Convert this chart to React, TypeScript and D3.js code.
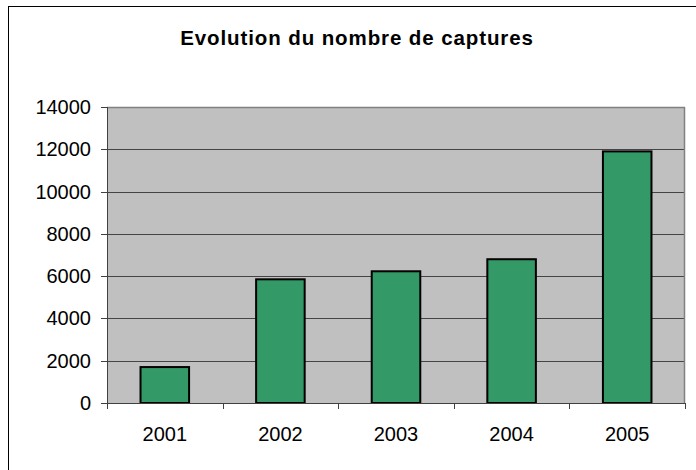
import React from "react";
import * as d3 from "d3";

const years = ["2001", "2002", "2003", "2004", "2005"];
const captures = [1700, 5850, 6230, 6800, 11900];
const yTicks = [0, 2000, 4000, 6000, 8000, 10000, 12000, 14000];
const title = "Evolution du nombre de captures";

export default function App() {
  const W = 696, H = 470;
  const left = 107, right = 685, top = 107, bottom = 403;
  const y = d3.scaleLinear().domain([0, 14000]).range([bottom, top]);
  const x = d3.scaleBand<string>().domain(years).range([left, right]).paddingInner(0.58).paddingOuter(0.29);
  const step = x.step();
  const font = "Arial, 'Liberation Sans', Helvetica, sans-serif";
  return (
    <svg width={W} height={H} style={{ position: "absolute", left: 0, top: 0, background: "#fff" }}>
      <rect x={8.5} y={6.5} width={720} height={500} fill="#fff" stroke="#000" strokeWidth={1} />
      <text x={357} y={45} textAnchor="middle" fontFamily={font} fontWeight="bold" fontSize={20.5} letterSpacing={0.9} fill="#000">{title}</text>
      <rect x={left} y={top} width={right - left} height={bottom - top} fill="#C0C0C0" />
      {yTicks.filter(t => t > 0 && t < 14000).map(t => (
        <line key={t} x1={left} x2={right} y1={Math.round(y(t)) + 0.5} y2={Math.round(y(t)) + 0.5} stroke="#444" strokeWidth={1} />
      ))}
      <line x1={left} x2={right} y1={top + 0.5} y2={top + 0.5} stroke="#808080" strokeWidth={1.5} />
      <line x1={right - 0.5} x2={right - 0.5} y1={top} y2={bottom} stroke="#808080" strokeWidth={1.5} />
      {years.map((yr, i) => (
        <rect key={yr} x={x(yr)!} y={y(captures[i])} width={x.bandwidth()} height={bottom - y(captures[i])} fill="#339966" stroke="#000" strokeWidth={2} />
      ))}
      <line x1={left + 0.5} x2={left + 0.5} y1={top} y2={bottom} stroke="#404040" strokeWidth={1} />
      <line x1={left} x2={right} y1={bottom + 0.5} y2={bottom + 0.5} stroke="#404040" strokeWidth={1} />
      {yTicks.map(t => (
        <g key={t}>
          <line x1={left - 6} x2={left} y1={Math.round(y(t)) + 0.5} y2={Math.round(y(t)) + 0.5} stroke="#404040" />
          <text x={91} y={y(t)} dy="0.35em" textAnchor="end" fontFamily={font} fontSize={20} fill="#000">{t}</text>
        </g>
      ))}
      {d3.range(years.length + 1).map(i => (
        <line key={i} x1={Math.round(left + i * step) + 0.5} x2={Math.round(left + i * step) + 0.5} y1={bottom} y2={bottom + 6} stroke="#404040" />
      ))}
      {years.map(yr => (
        <text key={yr} x={x(yr)! + x.bandwidth() / 2} y={441} textAnchor="middle" fontFamily={font} fontSize={20} fill="#000">{yr}</text>
      ))}
    </svg>
  );
}
